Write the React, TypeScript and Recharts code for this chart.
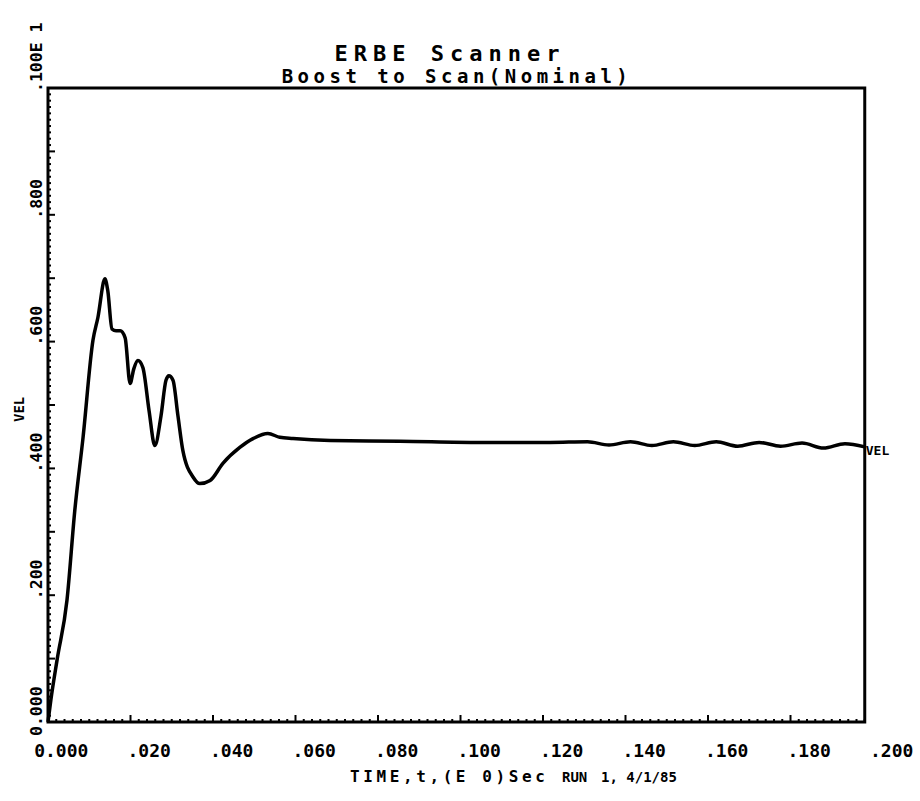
import React from "react";
import { LineChart, Line, XAxis, YAxis, ReferenceArea } from "recharts";

// time (s) and velocity
const time = [
  0, 0.0007, 0.0022, 0.0046, 0.0065, 0.0085, 0.0109, 0.0121, 0.0138, 0.0145,
  0.0155, 0.0165, 0.0175, 0.0187, 0.0199, 0.0208, 0.0218, 0.023, 0.0245,
  0.0259, 0.0274, 0.0286, 0.0293, 0.0303, 0.0315, 0.0327, 0.0352, 0.0368,
  0.0393, 0.0424, 0.0465, 0.0497, 0.0533, 0.0562, 0.0594, 0.0684, 0.0853,
  0.1047, 0.1217, 0.1308, 0.136, 0.1412, 0.1464, 0.1516, 0.1568, 0.162,
  0.1672, 0.1724, 0.1776, 0.1828, 0.188, 0.1932, 0.198,
];
const vel = [
  0, 0.035, 0.098, 0.192, 0.334, 0.449, 0.602, 0.638, 0.699, 0.68, 0.62,
  0.617, 0.617, 0.606, 0.534, 0.557, 0.57, 0.559, 0.491, 0.436, 0.483, 0.539,
  0.546, 0.539, 0.483, 0.428, 0.386, 0.376, 0.381, 0.408, 0.433, 0.447, 0.455,
  0.449, 0.447, 0.444, 0.443, 0.441, 0.441, 0.442, 0.437, 0.442, 0.436, 0.442,
  0.436, 0.442, 0.435, 0.441, 0.435, 0.44, 0.432, 0.439, 0.434,
];

const xMajor = [0, 0.02, 0.04, 0.06, 0.08, 0.1, 0.12, 0.14, 0.16, 0.18, 0.2];
const xLabels = [
  "0.000", ".020", ".040", ".060", ".080", ".100", ".120", ".140", ".160", ".180", ".200",
];
const yMajor = [0, 0.2, 0.4, 0.6, 0.8, 1];
const yLabels = ["0.000", ".200", ".400", ".600", ".800", ".100E 1"];

const T_END = 0.198;

const data = time.map((t, i) => ({ t, vel: vel[i] }));

// minor tick positions (every .002 on x, every .01 on y)
const xTicks = Array.from({ length: 101 }, (_, i) => +(i * 0.002).toFixed(3));
const yTicks = Array.from({ length: 101 }, (_, i) => +(i * 0.01).toFixed(2));

const FONT = "'DejaVu Sans Mono', monospace";
const PLOT_BOTTOM = 722;
const PLOT_LEFT = 48;

const XTick = (props: any) => {
  const { x, payload } = props;
  const v = payload.value;
  const y = PLOT_BOTTOM;
  const mi = xMajor.findIndex((m) => Math.abs(m - v) < 1e-6);
  const len = mi >= 0 ? 7 : 3;
  const label = mi >= 0 ? xLabels[mi] : null;
  return (
    <g>
      {v <= T_END + 1e-6 && (
        <line x1={x} x2={x} y1={y} y2={y - len} stroke="#000" strokeWidth={2} />
      )}
      {label && (
        <text
          x={x - label.indexOf(".") * 10.8 - 3}
          y={y + 35}
          fontFamily={FONT}
          fontWeight="bold"
          fontSize={18}
          fill="#000"
        >
          {label}
        </text>
      )}
    </g>
  );
};

const YTick = (props: any) => {
  const { y, payload } = props;
  const v = payload.value;
  const x = PLOT_LEFT;
  const k = Math.round(v * 100);
  const mi = yMajor.findIndex((m) => Math.abs(m - v) < 1e-6);
  const len = k % 10 === 0 ? 7 : 3;
  const label = mi >= 0 ? yLabels[mi] : null;
  return (
    <g>
      <line x1={x} x2={x + len} y1={y} y2={y} stroke="#000" strokeWidth={2} />
      {label && (
        <text
          transform={`translate(42, ${y + label.indexOf(".") * 10 + 4}) rotate(-90)`}
          fontFamily={FONT}
          fontWeight="bold"
          fontSize={16.5}
          fill="#000"
        >
          {label}
        </text>
      )}
    </g>
  );
};

const EndDot = (props: any) => {
  const { cx, cy, index } = props;
  if (index !== data.length - 1) return <g key={`d${index}`} />;
  return (
    <text
      key="end"
      x={cx + 1}
      y={cy + 8}
      fontFamily={FONT}
      fontWeight="bold"
      fontSize={13}
      fill="#000"
    >
      VEL
    </text>
  );
};

export default function App() {
  return (
    <div
      style={{
        position: "absolute",
        left: 0,
        top: 0,
        width: 920,
        height: 801,
        background: "#fff",
      }}
    >
      <LineChart
        width={920}
        height={801}
        data={data}
        margin={{ top: 88, right: 47, left: 18, bottom: 49 }}
      >
        <XAxis
          dataKey="t"
          type="number"
          domain={[0, 0.2]}
          ticks={xTicks}
          interval={0}
          height={30}
          axisLine={false}
          tickLine={false}
          tick={<XTick />}
        />
        <YAxis
          type="number"
          domain={[0, 1]}
          ticks={yTicks}
          interval={0}
          width={30}
          axisLine={false}
          tickLine={false}
          tick={<YTick />}
        />
        <ReferenceArea
          x1={0}
          x2={T_END}
          y1={0}
          y2={1}
          fill="none"
          fillOpacity={0}
          stroke="#000"
          strokeWidth={3}
          ifOverflow="visible"
        />
        <Line
          type="monotone"
          dataKey="vel"
          stroke="#000"
          strokeWidth={3.5}
          dot={EndDot}
          activeDot={false}
          isAnimationActive={false}
        />
      </LineChart>

      {/* titles */}
      <svg
        width={920}
        height={801}
        style={{ position: "absolute", left: 0, top: 0, pointerEvents: "none" }}
      >
        <g fontFamily={FONT} fontWeight="bold" fill="#000">
          <text x={450} y={61} textAnchor="middle" fontSize={22} letterSpacing={6}>
            ERBE Scanner
          </text>
          <text x={457} y={83} textAnchor="middle" fontSize={19} letterSpacing={4.5}>
            Boost to Scan(Nominal)
          </text>
          <text x={350} y={782} fontSize={16} letterSpacing={3.6}>
            TIME,t,(E 0)Sec
          </text>
          <text x={562} y={782} fontSize={14}>
            RUN
          </text>
          <text x={601} y={782} fontSize={14}>
            1, 4/1/85
          </text>
          <text transform="translate(24, 422) rotate(-90)" fontSize={14}>
            VEL
          </text>
        </g>
      </svg>
    </div>
  );
}
